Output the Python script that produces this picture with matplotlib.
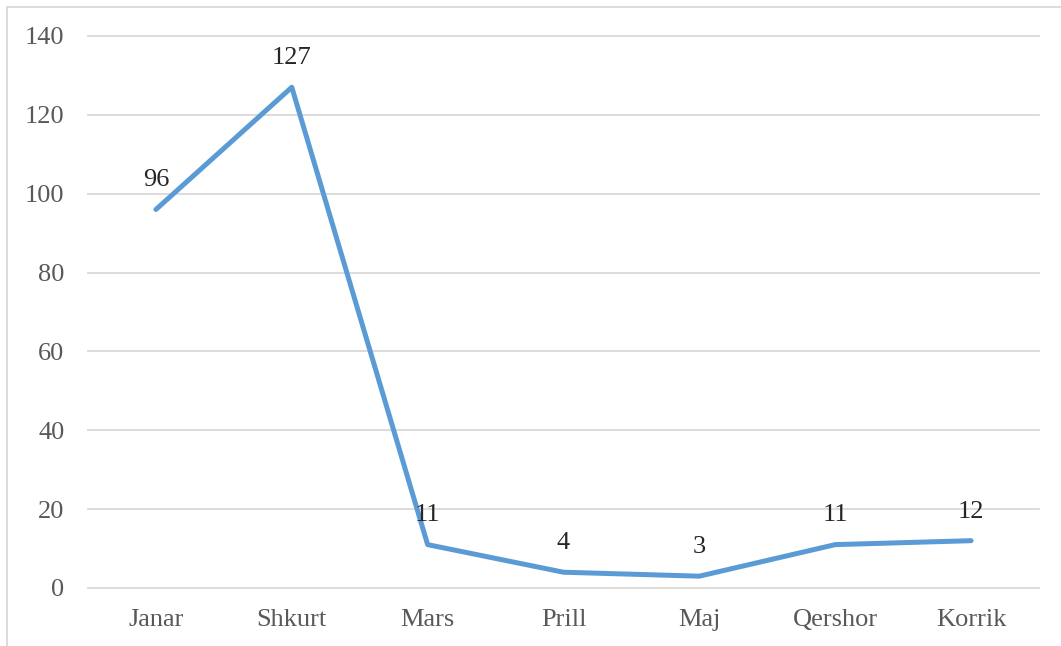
import matplotlib
matplotlib.use("Agg")
import matplotlib.pyplot as plt
from matplotlib.patches import Rectangle

months = ["Janar", "Shkurt", "Mars", "Prill", "Maj", "Qershor", "Korrik"]
values = [96, 127, 11, 4, 3, 11, 12]
yticks = [0, 20, 40, 60, 80, 100, 120, 140]

W, H = 1061, 646
fig = plt.figure(figsize=(W / 100, H / 100), dpi=100)
plt.rcParams['font.family'] = ['Liberation Serif', 'DejaVu Serif']

# outer chart border
fig.patches.append(Rectangle((7 / W, -0.1), 1.2, 1 - 7 / H + 0.1, transform=fig.transFigure,
                             fill=False, edgecolor='#D9D9D9', linewidth=1.3))

left, right, top, bottom = 88, 1039, 36, 588
ax = fig.add_axes([left / W, 1 - bottom / H, (right - left) / W, (bottom - top) / H])

x = list(range(len(months)))
ax.plot(x, values, color='#5B9BD5', linewidth=3.6, solid_capstyle='round', solid_joinstyle='round', zorder=3)

for xi, v in zip(x, values):
    ax.annotate(str(v), (xi, v), xytext=(0, 21), textcoords='offset points',
                ha='center', va='center', fontsize=19, color='#262626', zorder=4)

ax.set_xlim(-0.5, len(months) - 0.5)
ax.set_ylim(0, 140)
ax.set_yticks(yticks)
ax.set_yticklabels([str(t) for t in yticks])
ax.set_xticks(x)
ax.set_xticklabels(months)
for s in ax.spines.values():
    s.set_visible(False)
ax.grid(axis='y', color='#D9D9D9', linewidth=1.3)
for gl in ax.get_ygridlines():
    gl.set_clip_on(False)
ax.set_axisbelow(True)
ax.tick_params(axis='both', length=0, labelsize=19, labelcolor='#595959')
ax.tick_params(axis='y', pad=17)
ax.tick_params(axis='x', pad=15)

fig.savefig("out.png", dpi=100)
